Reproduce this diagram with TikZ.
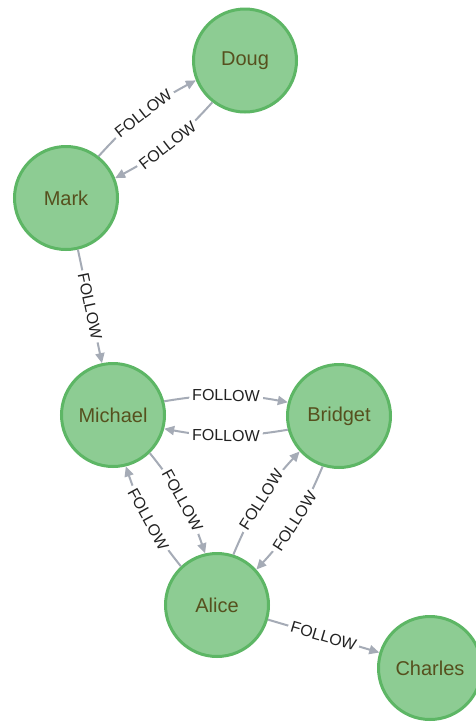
\documentclass[tikz,border=0pt]{standalone}
\usepackage{fontspec}
\setmainfont{Liberation Sans}
\usetikzlibrary{arrows.meta}
\definecolor{nodefill}{HTML}{8DCC93}
\definecolor{nodeedge}{HTML}{5DB665}
\definecolor{nodetext}{HTML}{56501E}
\definecolor{reledge}{HTML}{A5ABB6}
\definecolor{reltext}{HTML}{222222}
\tikzset{
  person/.style={circle, draw=nodeedge, fill=nodefill, line width=3pt,
    minimum size=103pt, inner sep=0pt, text=nodetext,
    font=\fontsize{20}{24}\selectfont},
  rel/.style={draw=reledge, line width=2pt,
    -{Triangle[length=10pt,width=9pt]}},
  rellabel/.style={sloped, fill=white, inner sep=3pt, text=reltext,
    font=\fontsize{16}{19}\selectfont}
}
\begin{document}
\begin{tikzpicture}[x=1pt, y=-1pt]
  \useasboundingbox[fill=white] (0,0) rectangle (475,724);

  % people
  \node[person] (doug)    at (245, 60.5) {Doug};
  \node[person] (mark)    at (66, 198)   {Mark};
  \node[person] (michael) at (113, 415)  {Michael};
  \node[person] (bridget) at (339, 416)  {Bridget};
  \node[person] (alice)   at (217, 605)  {Alice};
  \node[person] (charles) at (430, 668)  {Charles};

  % Mark <-> Doug (centre line at 37.5 deg)
  \draw[rel] (mark.52.5) to[bend left=10]
    node[rellabel] {FOLLOW} (doug.202.5);
  \draw[rel] (doug.232.5) to[bend left=10]
    node[rellabel] {FOLLOW} (mark.22.5);

  % Mark -> Michael
  \draw[rel] (mark.-77.8) -- node[rellabel] {FOLLOW} (michael.102.2);

  % Michael <-> Bridget (centre line at 0 deg)
  \draw[rel] (michael.15) to[bend left=10]
    node[rellabel] {FOLLOW} (bridget.165);
  \draw[rel] (bridget.195) to[bend left=10]
    node[rellabel] {FOLLOW} (michael.-15);

  % Michael <-> Alice (centre line at -61.3 deg)
  \draw[rel] (michael.-46.3) to[bend left=10]
    node[rellabel] {FOLLOW} (alice.103.7);
  \draw[rel] (alice.133.7) to[bend left=10]
    node[rellabel] {FOLLOW} (michael.-76.3);

  % Alice <-> Bridget (centre line at 57.2 deg)
  \draw[rel] (alice.72.2) to[bend left=10]
    node[rellabel] {FOLLOW} (bridget.222.2);
  \draw[rel] (bridget.252.2) to[bend left=10]
    node[rellabel] {FOLLOW} (alice.42.2);

  % Alice -> Charles
  \draw[rel] (alice.-16.5) -- node[rellabel] {FOLLOW} (charles.163.5);
\end{tikzpicture}
\end{document}
